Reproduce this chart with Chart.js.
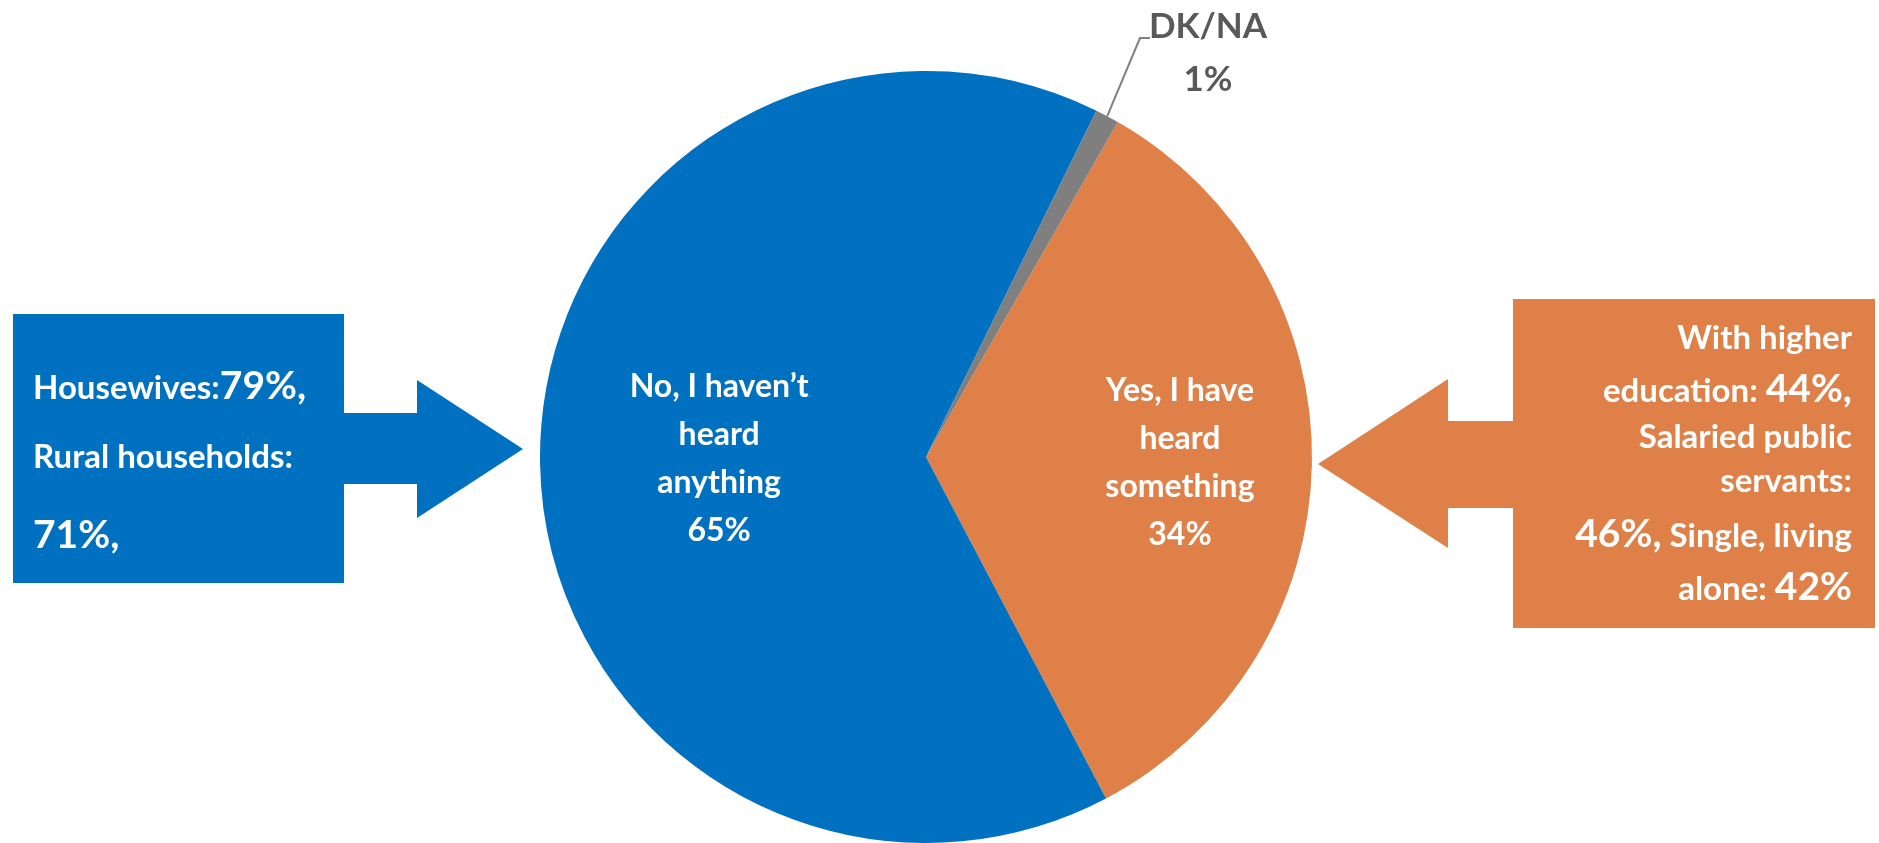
<!DOCTYPE html>
<html>
<head>
<meta charset="utf-8">
<script src="https://cdn.jsdelivr.net/npm/chart.js@4/dist/chart.umd.min.js"></script>
<style>
    html, body { margin: 0; padding: 0; background: #fff; overflow: hidden; }
    canvas { display: block; }
</style>
</head>
<body>
<canvas id="pieChart" width="1879" height="843"></canvas>
<script>
// data
const categories = ['Yes, I have heard something', 'No, I haven’t heard anything', 'DK/NA'];
const shares = [34, 65, 1];
const sliceLines = [['Yes, I have', 'heard', 'something'], ['No, I haven’t', 'heard', 'anything'], ['DK/NA']];

// callout texts, each line is a list of [text, size] runs ('s' small, 'b' big)
const leftNote = [
    [['Housewives:', 's'], ['79%,', 'b']],
    [['Rural households:', 's']],
    [['71%,', 'b']]
];
const rightNote = [
    [['With higher', 's']],
    [['education: ', 's'], ['44%,', 'b']],
    [['Salaried public', 's']],
    [['servants:', 's']],
    [['46%,', 'b'], [' Single, living', 's']],
    [['alone: ', 's'], ['42%', 'b']]
];

const BLUE = '#0070C0';
const ORANGE = '#DE8048';
const GREY = '#7F7F7F';
const FAMILY = 'Lato, "Open Sans", sans-serif';

function font(px) {
    return 'bold ' + px + 'px ' + FAMILY;
}

function drawRuns(ctx, runs, x, y, align, sizes) {
    let total = 0;
    runs.forEach(r => {
        ctx.font = font(sizes[r[1]]);
        total += ctx.measureText(r[0]).width;
    });
    let cx = align === 'right' ? x - total : x;
    runs.forEach(r => {
        ctx.font = font(sizes[r[1]]);
        ctx.fillText(r[0], cx, y);
        cx += ctx.measureText(r[0]).width;
    });
}

function fillPoly(ctx, pts, color) {
    ctx.beginPath();
    ctx.moveTo(pts[0][0], pts[0][1]);
    for (let i = 1; i < pts.length; i++) ctx.lineTo(pts[i][0], pts[i][1]);
    ctx.closePath();
    ctx.fillStyle = color;
    ctx.fill();
}

const calloutPlugin = {
    id: 'callouts',
    beforeDatasetsDraw(chart) {
        const ctx = chart.ctx;
        ctx.save();
        // left box with arrow pointing at the pie
        fillPoly(ctx, [[13, 314], [344, 314], [344, 413], [417, 413], [417, 380], [523, 449],
            [417, 518], [417, 484], [344, 484], [344, 583], [13, 583]], BLUE);
        // right box with arrow pointing at the pie
        fillPoly(ctx, [[1875, 299], [1513, 299], [1513, 421], [1448, 421], [1448, 379], [1318, 464],
            [1448, 548], [1448, 508], [1513, 508], [1513, 628], [1875, 628]], ORANGE);

        const sizes = { s: 33, b: 39 };
        ctx.fillStyle = '#fff';
        ctx.textBaseline = 'alphabetic';
        const leftBase = [399, 468, 548];
        leftNote.forEach((line, i) => drawRuns(ctx, line, 33, leftBase[i], 'left', sizes));
        const rightBase = [349, 402, 448, 492, 547, 600];
        rightNote.forEach((line, i) => drawRuns(ctx, line, 1852, rightBase[i], 'right', sizes));
        ctx.restore();
    },
    afterDatasetsDraw(chart) {
        const ctx = chart.ctx;
        const arcs = chart.getDatasetMeta(0).data;
        const values = chart.data.datasets[0].data;
        const reach = [0.658, 0.536];
        const lift = [0, 3];
        ctx.save();
        ctx.textAlign = 'center';
        ctx.textBaseline = 'alphabetic';

        // labels inside the two big slices
        [0, 1].forEach(i => {
            const a = arcs[i];
            const mid = (a.startAngle + a.endAngle) / 2;
            const lx = a.x + Math.cos(mid) * a.outerRadius * reach[i];
            const ly = a.y + Math.sin(mid) * a.outerRadius * reach[i] - lift[i];
            const lines = sliceLines[i].concat([values[i] + '%']);
            const step = 48;
            const top = ly - step * (lines.length - 1) / 2;
            ctx.font = font(32);
            ctx.fillStyle = '#fff';
            lines.forEach((t, k) => ctx.fillText(t, lx, top + k * step + 12));
        });

        // DK/NA label outside with a leader line
        const g = arcs[2];
        const gm = (g.startAngle + g.endAngle) / 2;
        const ex = g.x + Math.cos(gm) * g.outerRadius;
        const ey = g.y + Math.sin(gm) * g.outerRadius;
        ctx.strokeStyle = GREY;
        ctx.lineWidth = 2;
        ctx.beginPath();
        ctx.moveTo(ex, ey);
        ctx.lineTo(1140, 38);
        ctx.lineTo(1150, 38);
        ctx.stroke();
        ctx.fillStyle = '#595959';
        ctx.font = font(35);
        ctx.fillText(sliceLines[2][0], 1208, 38);
        ctx.fillText(values[2] + '%', 1208, 91);
        ctx.restore();
    }
};

const pieChart = new Chart(document.getElementById('pieChart'), {
    type: 'pie',
    data: {
        labels: categories,
        datasets: [{
            data: shares,
            backgroundColor: [ORANGE, BLUE, GREY],
            borderWidth: 0,
            hoverOffset: 0
        }]
    },
    options: {
        responsive: false,
        animation: false,
        events: [],
        rotation: 29.8,
        layout: { padding: { left: 540, right: 567, top: 71, bottom: 0 } },
        plugins: {
            legend: { display: false },
            tooltip: { enabled: false }
        }
    },
    plugins: [calloutPlugin]
});
</script>
</body>
</html>
